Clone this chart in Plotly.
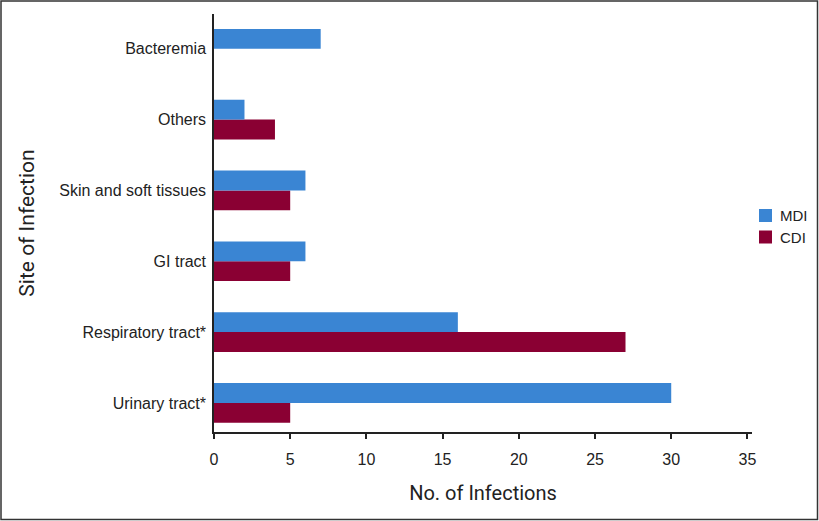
import plotly.graph_objects as go

categories = ["Urinary tract*", "Respiratory tract*", "GI tract", "Skin and soft tissues", "Others", "Bacteremia"]
mdi_values = [30, 16, 6, 6, 2, 7]
cdi_values = [5, 27, 5, 5, 4, 0]
x_ticks = [0, 5, 10, 15, 20, 25, 30, 35]
series_names = ["MDI", "CDI"]

BLUE = "#3a85d3"
RED = "#8a0033"

L, R, T, B = 214, 752, 14, 432
PW, PH = R - L, B - T


def px(x):
    return (x - L) / PW


def py(y):
    return (B - y) / PH


fig = go.Figure()
fig.add_trace(go.Bar(y=categories, x=cdi_values, name=series_names[1], orientation="h",
                     marker=dict(color=RED, line=dict(width=0)), showlegend=False))
fig.add_trace(go.Bar(y=categories, x=mdi_values, name=series_names[0], orientation="h",
                     marker=dict(color=BLUE, line=dict(width=0)), showlegend=False))

# manual legend (squares + labels)
shapes = [dict(type="rect", xref="paper", yref="paper",
               x0=px(1), x1=px(817.5), y0=py(519.5), y1=py(1),
               line=dict(color="#333", width=1.5), fillcolor="rgba(0,0,0,0)", layer="above")]
annotations = []
for name, color, yc in [(series_names[0], BLUE, 215.5), (series_names[1], RED, 237)]:
    shapes.append(dict(type="rect", xref="paper", yref="paper",
                       x0=px(759), x1=px(772), y0=py(yc + 6.5), y1=py(yc - 6.5),
                       line=dict(width=0), fillcolor=color))
    annotations.append(dict(text=name, xref="paper", yref="paper", x=px(778), y=py(yc),
                            xanchor="left", yanchor="middle", showarrow=False,
                            font=dict(size=15, color="#222")))

fig.update_layout(
    width=819, height=521,
    margin=dict(l=L, r=819 - R, t=T, b=521 - B, autoexpand=False),
    paper_bgcolor="white", plot_bgcolor="white",
    barmode="group", bargap=0.44, bargroupgap=0,
    font=dict(family="Liberation Sans, Arial, sans-serif", size=16, color="#222"),
    showlegend=False,
    xaxis=dict(range=[0, 35.3], tickvals=x_ticks, ticks="outside", ticklen=5, tickwidth=1.5,
               tickcolor="#222", showline=True, linecolor="#222", linewidth=1.5,
               showgrid=False, zeroline=False, ticklabelstandoff=7,
               title=dict(text="No. of Infections", standoff=19,
                          font=dict(family="Roboto, sans-serif", size=20))),
    yaxis=dict(range=[-0.41, 5.49], showline=True, linecolor="#222", linewidth=1.5,
               ticks="", showgrid=False, zeroline=False, ticklabelstandoff=3,
               title=dict(text="Site of Infection", standoff=19,
                          font=dict(family="Roboto, sans-serif", size=21))),
    shapes=shapes,
    annotations=annotations,
)

fig.write_html("out.html", config={"displayModeBar": False},
               post_script="document.body.style.margin='0px';")
